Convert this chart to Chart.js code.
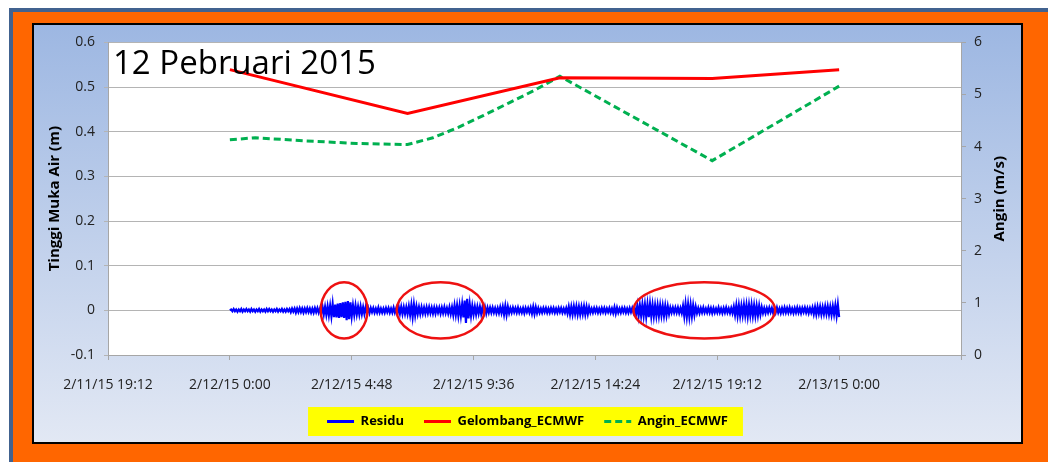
<!DOCTYPE html>
<html lang="id">
<head>
<meta charset="UTF-8" />
<title>12 Pebruari 2015</title>
<style>
  * { margin: 0; padding: 0; box-sizing: border-box; }
  body { width: 1048px; height: 462px; background: #fff; overflow: hidden; position: relative; }
  .frame {
    position: absolute; left: 9px; top: 8px; right: 0; bottom: 0;
    background: #ff6600;
    border-top: 4px solid #41628f;
    border-left: 4px solid #41628f;
  }
  .panel {
    position: absolute; left: 32px; top: 23px; width: 991px; height: 421px;
    border: 2px solid #000;
    background: linear-gradient(to bottom, #9db7e2, #e2e8f4);
  }
  #chart { position: absolute; left: 0; top: 0; }
</style>
</head>
<body>
<div class="frame"></div>
<div class="panel"><canvas id="chart" width="987" height="417"></canvas></div>

<script src="https://cdn.jsdelivr.net/npm/chart.js@4.4.1/dist/chart.umd.min.js"></script>
<script>
  const judul = "12 Pebruari 2015";
  const xTickLabels = ["2/11/15 19:12", "2/12/15 0:00", "2/12/15 4:48", "2/12/15 9:36",
    "2/12/15 14:24", "2/12/15 19:12", "2/13/15 0:00"];

  // x in hours since 2/12/15 0:00
  const gelombangJam = [0, 7, 13, 19, 24];
  const gelombang = [0.539, 0.441, 0.521, 0.519, 0.539];

  const anginJam = [0, 1, 3, 5, 7, 8, 9, 10, 11, 12, 13, 19, 24];
  const angin = [4.13, 4.17, 4.11, 4.06, 4.04, 4.17, 4.37, 4.60, 4.84, 5.08, 5.35, 3.73, 5.16];

  // residu every 3 minutes (0.05 h), 0:00 to 0:00 next day, one row per hour
  const residuStepJam = 0.05;
  const residu = [
    0.000, 0.002, -0.002, 0.003, -0.002, 0.002, -0.003, 0.002, -0.002, 0.003, -0.003, 0.002, -0.002, 0.003, -0.002, 0.002, -0.003, 0.003, -0.002, 0.002,
    -0.003, 0.002, -0.002, 0.003, -0.003, 0.002, -0.002, 0.002, -0.003, 0.003, -0.002, 0.003, -0.002, 0.002, -0.003, 0.002, -0.002, 0.003, -0.003, 0.002,
    -0.002, 0.003, -0.003, 0.002, -0.003, 0.003, -0.002, 0.003, -0.004, 0.004, -0.003, 0.004, -0.005, 0.004, -0.004, 0.005, -0.004, 0.004, -0.005, 0.004,
    -0.004, 0.005, -0.004, 0.004, -0.005, 0.004, -0.005, 0.005, -0.004, 0.005, -0.005, 0.004, -0.007, 0.008, -0.009, 0.008, -0.010, 0.009, -0.011, 0.010,
    -0.013, 0.014, -0.015, 0.013, -0.016, 0.015, -0.017, 0.016, -0.015, 0.018, -0.017, 0.019, -0.022, 0.021, -0.020, 0.018, -0.013, 0.011, -0.010, 0.011,
    -0.009, 0.008, -0.009, 0.009, -0.008, 0.007, -0.008, 0.007, -0.006, 0.005, -0.006, 0.005, -0.004, 0.005, -0.005, 0.004, -0.005, 0.006, -0.005, 0.004,
    -0.005, 0.004, -0.005, 0.005, -0.004, 0.005, -0.005, 0.004, -0.005, 0.006, -0.005, 0.004, -0.007, 0.008, -0.007, 0.008, -0.008, 0.007, -0.008, 0.007,
    -0.008, 0.009, -0.010, 0.012, -0.014, 0.013, -0.011, 0.009, -0.008, 0.007, -0.008, 0.007, -0.007, 0.006, -0.007, 0.007, -0.006, 0.007, -0.006, 0.006,
    -0.007, 0.006, -0.007, 0.006, -0.005, 0.006, -0.007, 0.006, -0.006, 0.007, -0.006, 0.005, -0.007, 0.007, -0.008, 0.007, -0.010, 0.011, -0.010, 0.011,
    -0.012, 0.011, -0.012, 0.013, -0.016, 0.022, -0.028, 0.026, -0.018, 0.013, -0.012, 0.010, -0.009, 0.008, -0.009, 0.008, -0.007, 0.008, -0.008, 0.007,
    -0.008, 0.007, -0.007, 0.006, -0.005, 0.006, -0.005, 0.006, -0.005, 0.005, -0.006, 0.005, -0.006, 0.007, -0.006, 0.008, -0.009, 0.010, -0.010, 0.008,
    -0.006, 0.005, -0.005, 0.006, -0.004, 0.005, -0.005, 0.006, -0.005, 0.004, -0.005, 0.005, -0.006, 0.005, -0.004, 0.005, -0.005, 0.006, -0.007, 0.008,
    -0.008, 0.007, -0.006, 0.005, -0.005, 0.004, -0.005, 0.005, -0.004, 0.005, -0.005, 0.004, -0.005, 0.005, -0.004, 0.005, -0.005, 0.004, -0.005, 0.005,
    -0.004, 0.005, -0.005, 0.004, -0.005, 0.005, -0.007, 0.008, -0.009, 0.008, -0.009, 0.009, -0.008, 0.009, -0.009, 0.008, -0.009, 0.008, -0.008, 0.009,
    -0.009, 0.008, -0.008, 0.007, -0.005, 0.004, -0.005, 0.005, -0.004, 0.005, -0.005, 0.004, -0.005, 0.005, -0.004, 0.005, -0.005, 0.004, -0.004, 0.005,
    -0.005, 0.004, -0.006, 0.007, -0.007, 0.006, -0.005, 0.004, -0.005, 0.005, -0.004, 0.005, -0.005, 0.004, -0.005, 0.005, -0.004, 0.005, -0.005, 0.004,
    -0.009, 0.011, -0.012, 0.011, -0.012, 0.013, -0.012, 0.013, -0.014, 0.013, -0.015, 0.014, -0.013, 0.012, -0.013, 0.011, -0.012, 0.011, -0.012, 0.011,
    -0.011, 0.010, -0.012, 0.010, -0.011, 0.009, -0.008, 0.006, -0.005, 0.006, -0.005, 0.006, -0.005, 0.006, -0.006, 0.005, -0.006, 0.010, -0.013, 0.014,
    -0.014, 0.013, -0.014, 0.012, -0.013, 0.011, -0.010, 0.008, -0.006, 0.005, -0.006, 0.005, -0.005, 0.006, -0.005, 0.004, -0.005, 0.006, -0.005, 0.005,
    -0.006, 0.005, -0.005, 0.004, -0.005, 0.006, -0.005, 0.004, -0.006, 0.005, -0.005, 0.006, -0.005, 0.004, -0.006, 0.005, -0.006, 0.008, -0.010, 0.011,
    -0.012, 0.011, -0.012, 0.010, -0.011, 0.012, -0.011, 0.012, -0.013, 0.012, -0.011, 0.012, -0.012, 0.011, -0.012, 0.010, -0.011, 0.010, -0.009, 0.007,
    -0.006, 0.005, -0.006, 0.005, -0.005, 0.006, -0.004, 0.005, -0.006, 0.005, -0.005, 0.006, -0.005, 0.004, -0.006, 0.005, -0.005, 0.006, -0.005, 0.005,
    -0.005, 0.006, -0.005, 0.004, -0.006, 0.005, -0.005, 0.006, -0.005, 0.005, -0.006, 0.005, -0.004, 0.006, -0.005, 0.005, -0.006, 0.005, -0.005, 0.006,
    -0.008, 0.007, -0.009, 0.008, -0.007, 0.008, -0.009, 0.007, -0.008, 0.009, -0.008, 0.009, -0.009, 0.008, -0.010, 0.009, -0.009, 0.011, -0.012, 0.013,
    -0.015
  ];

  // red circles drawn over the residu: centre (h), half width (h), half height (m)
  const lingkaranJam = [4.5, 8.3, 18.69];
  const lingkaranLebar = [0.92, 1.73, 2.79];
  const lingkaranTinggi = 0.063;

  const fontFamily = "'Open Sans', sans-serif";
  const tickColor = "#222";
  const axisGray = "#a6a6a6";

  const hiasan = {
    id: "hiasan",
    beforeDraw(chart) {
      const { ctx, chartArea: a, legend } = chart;
      ctx.save();
      ctx.fillStyle = "#fff";
      ctx.fillRect(a.left, a.top, a.right - a.left, a.bottom - a.top);
      const hb = legend.legendHitBoxes;
      if (hb && hb.length) {
        const first = hb[0], last = hb[hb.length - 1];
        const cy = first.top + first.height / 2;
        const x0 = first.left - 19;
        ctx.fillStyle = "#ffff00";
        ctx.fillRect(x0, cy - 14.5, last.left + last.width + 15 - x0, 29);
      }
      ctx.restore();
    },
    afterDatasetsDraw(chart) {
      const { ctx, chartArea: a, scales } = chart;
      const x = scales.x, y = scales.y;
      ctx.save();
      ctx.strokeStyle = "#ee1111";
      ctx.lineWidth = 2.5;
      lingkaranJam.forEach((j, i) => {
        const cx = x.getPixelForValue(j);
        const rx = x.getPixelForValue(j + lingkaranLebar[i]) - cx;
        const cy = y.getPixelForValue(0);
        const ry = cy - y.getPixelForValue(lingkaranTinggi);
        ctx.beginPath();
        ctx.ellipse(cx, cy, rx, ry, 0, 0, Math.PI * 2);
        ctx.stroke();
      });

      ctx.fillStyle = "#000";
      ctx.font = "33px " + fontFamily;
      ctx.textAlign = "left";
      ctx.textBaseline = "alphabetic";
      ctx.fillText(judul, a.left + 5, a.top + 32);

      // axis titles, both read bottom to top
      ctx.font = "bold 15px " + fontFamily;
      ctx.textAlign = "center";
      ctx.textBaseline = "middle";
      const my = (a.top + a.bottom) / 2;
      [[scales.y.left + 21, "Tinggi Muka Air (m)"], [scales.y1.right - 21, "Angin (m/s)"]].forEach(([tx, t]) => {
        ctx.save();
        ctx.translate(tx, my);
        ctx.rotate(-Math.PI / 2);
        ctx.fillText(t, 0, 0);
        ctx.restore();
      });
      ctx.restore();
    }
  };

  const tickFont = { family: fontFamily, size: 14 };

  new Chart(document.getElementById("chart"), {
    type: "line",
    plugins: [hiasan],
    data: {
      datasets: [
        {
          label: "Residu",
          data: residu.map((v, i) => ({ x: +(i * residuStepJam).toFixed(2), y: v })),
          borderColor: "#0000ff",
          backgroundColor: "#0000ff",
          borderWidth: 2.2,
          pointRadius: 0,
          yAxisID: "y"
        },
        {
          label: "Gelombang_ECMWF",
          data: gelombangJam.map((j, i) => ({ x: j, y: gelombang[i] })),
          borderColor: "#ff0000",
          backgroundColor: "#ff0000",
          borderWidth: 3,
          pointRadius: 0,
          yAxisID: "y"
        },
        {
          label: "Angin_ECMWF",
          data: anginJam.map((j, i) => ({ x: j, y: angin[i] })),
          borderColor: "#00b050",
          backgroundColor: "#00b050",
          borderWidth: 3,
          borderDash: [7, 4],
          pointRadius: 0,
          yAxisID: "y1"
        }
      ]
    },
    options: {
      responsive: false,
      animation: false,
      layout: { padding: { left: 0, right: 0, top: 15, bottom: 4 } },
      plugins: {
        tooltip: { enabled: false },
        legend: {
          position: "bottom",
          labels: {
            usePointStyle: true,
            pointStyle: "line",
            pointStyleWidth: 27,
            padding: 20,
            color: "#000",
            font: { family: fontFamily, size: 13, weight: "bold" },
            generateLabels: (chart) =>
              Chart.defaults.plugins.legend.labels.generateLabels(chart).map((l) => ({
                ...l,
                lineWidth: 3,
                lineDash: chart.data.datasets[l.datasetIndex].borderDash || []
              }))
          }
        }
      },
      scales: {
        x: {
          type: "linear",
          min: -4.8,
          max: 28.8,
          afterFit: (s) => { s.height = 40; },
          ticks: {
            stepSize: 4.8,
            autoSkip: false,
            maxRotation: 0,
            padding: 17,
            color: tickColor,
            font: tickFont,
            callback: (v, i) => xTickLabels[i] ?? ""
          },
          grid: { drawOnChartArea: false, tickLength: 5, color: axisGray },
          border: { color: axisGray }
        },
        y: {
          position: "left",
          min: -0.1,
          max: 0.6,
          afterFit: (s) => { s.width = 74; },
          ticks: {
            stepSize: 0.1,
            padding: 9,
            color: tickColor,
            font: tickFont,
            callback: (v) => {
              const r = Math.round(v * 10) / 10;
              return r === 0 ? "0" : String(r);
            }
          },
          grid: { color: "#b4b4b4", tickLength: 4 },
          border: { color: axisGray }
        },
        y1: {
          position: "right",
          min: 0,
          max: 6,
          afterFit: (s) => { s.width = 60; },
          ticks: { stepSize: 1, padding: 8, color: tickColor, font: tickFont },
          grid: { drawOnChartArea: false, tickLength: 5, color: axisGray },
          border: { color: axisGray }
        }
      }
    }
  });
</script>
</body>
</html>
